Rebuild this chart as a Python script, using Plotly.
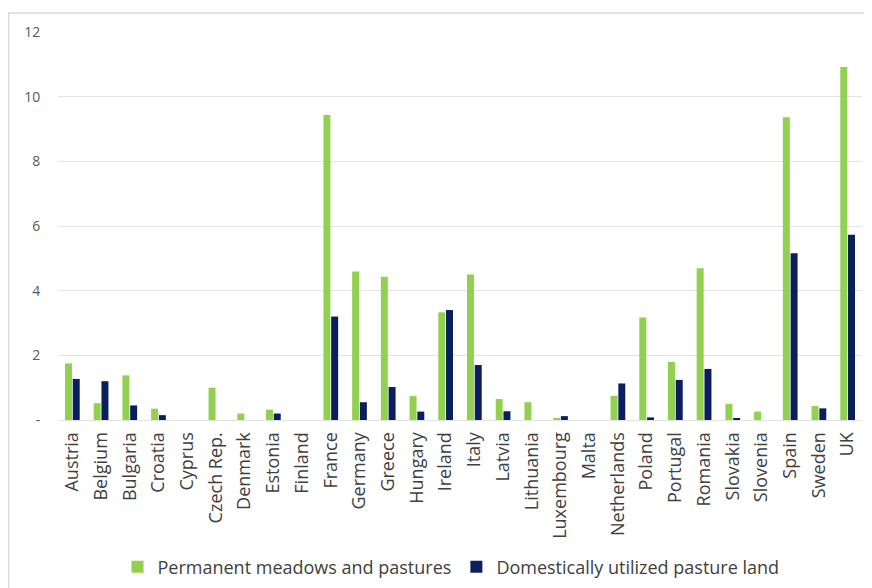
import plotly.graph_objects as go

countries = ["Austria", "Belgium", "Bulgaria", "Croatia", "Cyprus", "Czech Rep.", "Denmark",
             "Estonia", "Finland", "France", "Germany", "Greece", "Hungary", "Ireland", "Italy",
             "Latvia", "Lithuania", "Luxembourg", "Malta", "Netherlands", "Poland", "Portugal",
             "Romania", "Slovakia", "Slovenia", "Spain", "Sweden", "UK"]

permanent_meadows = [1.75, 0.52, 1.38, 0.35, 0.0, 1.0, 0.2, 0.32, 0.0, 9.43, 4.59, 4.43, 0.74,
                     3.33, 4.5, 0.65, 0.55, 0.05, 0.0, 0.75, 3.17, 1.80, 4.69, 0.5, 0.26, 9.36,
                     0.43, 10.92]
domestic_pasture = [1.27, 1.2, 0.45, 0.15, 0.0, 0.0, 0.0, 0.2, 0.0, 3.2, 0.55, 1.02, 0.26,
                    3.40, 1.70, 0.27, 0.0, 0.12, 0.0, 1.13, 0.08, 1.24, 1.58, 0.06, 0.0, 5.16,
                    0.36, 5.73]

y_tickvals = [0, 2, 4, 6, 8, 10, 12]
y_ticktext = ["-", "2", "4", "6", "8", "10", "12"]

fig = go.Figure()
fig.add_trace(go.Bar(x=countries, y=permanent_meadows, name="Permanent meadows and pastures",
                     marker=dict(color="#92D050", line=dict(width=0))))
fig.add_trace(go.Bar(x=countries, y=domestic_pasture, name="Domestically utilized pasture land",
                     marker=dict(color="#0B1F5E", line=dict(width=0))))

# page has an 8px body margin; coordinates below are figure coordinates
W, H = 872, 588
L, R, T, B = 50, 18, 24, 176
pw, ph = W - L - R, H - T - B

def px_x(x):
    return (x - L) / pw

def px_y(y):
    return (H - B - y) / ph

fig.update_layout(
    width=W, height=H,
    margin=dict(l=L, r=R, t=T, b=B, autoexpand=False),
    paper_bgcolor="white", plot_bgcolor="white",
    barmode="group", bargap=0.46, bargroupgap=0.1,
    font=dict(family="Open Sans, DejaVu Sans, sans-serif", color="#595959"),
    xaxis=dict(
        tickangle=-90, tickfont=dict(size=18, color="#404040"),
        showgrid=False, showline=False, ticks="outside", ticklen=4,
        tickcolor="rgba(0,0,0,0)", zeroline=False, automargin=False,
    ),
    yaxis=dict(
        range=[0, 12], tickvals=y_tickvals, ticktext=y_ticktext,
        tickfont=dict(size=14, color="#595959"),
        showgrid=True, gridcolor="#E4E4E4", gridwidth=1,
        zeroline=True, zerolinecolor="#E4E4E4", zerolinewidth=1,
        showline=False, ticks="outside", ticklen=14, tickcolor="rgba(0,0,0,0)",
        automargin=False,
    ),
    legend=dict(
        orientation="h", x=px_x(443), xanchor="center", y=px_y(559), yanchor="middle",
        font=dict(size=18, color="#404040", family="Open Sans, sans-serif"),
        traceorder="normal",
    ),
    showlegend=True,
    shapes=[dict(
        type="rect", xref="paper", yref="paper",
        x0=px_x(0.5), x1=px_x(900), y0=px_y(600), y1=px_y(5),
        line=dict(color="#D9D9D9", width=1.5), layer="below",
    )],
)

fig.write_html("out.html")
